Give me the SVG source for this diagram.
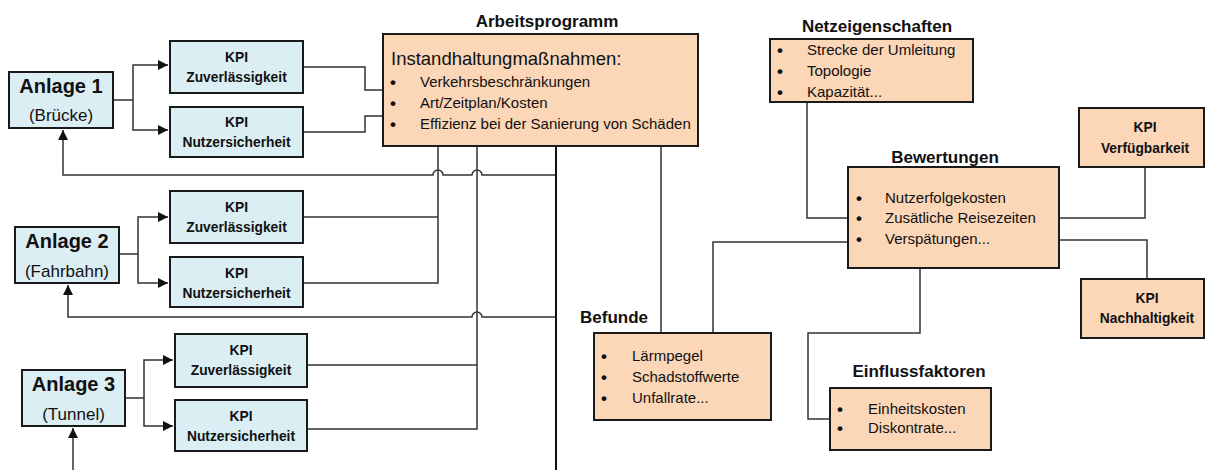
<svg xmlns="http://www.w3.org/2000/svg" width="1206" height="470" viewBox="0 0 1206 470">
<defs>
<marker id="arr" viewBox="0 0 10 10" refX="10" refY="5" markerWidth="10" markerHeight="10" markerUnits="userSpaceOnUse" orient="auto">
<path d="M0,0 L10,5 L0,10 z" fill="#111"/>
</marker>
<style>
.blue{fill:#DBEEF4;stroke:#1a1a1a;stroke-width:2}
.peach{fill:#FBD6B7;stroke:#1a1a1a;stroke-width:2}
.c{fill:none;stroke:#333;stroke-width:1.5}
.trunk{fill:none;stroke:#111;stroke-width:2}
text{font-family:"Liberation Sans",Arial,sans-serif;fill:#111}
.an{font-size:20px;font-weight:bold;text-anchor:middle}
.ans{font-size:17px;text-anchor:middle}
.kpi{font-size:13.8px;font-weight:bold;text-anchor:middle}
.ttl{font-size:17px;font-weight:bold}
.li{font-size:15px}
.bul{font-size:17px;font-weight:bold}
</style>
</defs>
<rect width="1206" height="470" fill="#fff"/>

<g id="connectors">
<!-- Anlage 1 -->
<path class="c" d="M113,100 H133 V65 H168" marker-end="url(#arr)"/>
<path class="c" d="M133,100 V130 H168" marker-end="url(#arr)"/>
<path class="c" d="M303,67 H365 V90 H383"/>
<path class="c" d="M303,132 H365 V116 H383"/>
<path class="c" d="M556,175 H482 A5,5 0 0 0 472,175 H443 A5,5 0 0 0 433,175 H63 V130" marker-end="url(#arr)"/>
<!-- Anlage 2 -->
<path class="c" d="M119,254 H138 V217 H168" marker-end="url(#arr)"/>
<path class="c" d="M138,254 V283 H168" marker-end="url(#arr)"/>
<path class="c" d="M303,217 H438"/>
<path class="c" d="M303,283 H438 V146"/>
<path class="c" d="M556,317 H482 A5,5 0 0 0 472,317 H68 V285" marker-end="url(#arr)"/>
<!-- Anlage 3 -->
<path class="c" d="M125,398 H144 V360 H173" marker-end="url(#arr)"/>
<path class="c" d="M144,398 V426 H173" marker-end="url(#arr)"/>
<path class="c" d="M307,365 H477"/>
<path class="c" d="M307,429 H477 V146"/>
<path class="c" d="M73,470 V428" marker-end="url(#arr)"/>
<!-- trunk -->
<path class="trunk" d="M556,142 V470"/>
<path class="c" d="M661,146 V333"/>
<!-- right side -->
<path class="c" d="M807,102 V218 H848"/>
<path class="c" d="M848,242 H713 V333"/>
<path class="c" d="M920,268 V333 H808 V419 H830"/>
<path class="c" d="M1059,218 H1145 V167"/>
<path class="c" d="M1059,240 H1147 V279"/>
</g>

<g id="anlage1">
<rect class="blue" x="9" y="72" width="104" height="56"/>
<text class="an" x="61" y="93">Anlage 1</text>
<text class="ans" x="61" y="121">(Brücke)</text>
</g>
<g id="kpi-z1">
<rect class="blue" x="170" y="41" width="133" height="52"/>
<text class="kpi" x="236.5" y="62">KPI</text>
<text class="kpi" x="236.5" y="82">Zuverlässigkeit</text>
</g>
<g id="kpi-n1">
<rect class="blue" x="170" y="107" width="133" height="50"/>
<text class="kpi" x="236.5" y="127">KPI</text>
<text class="kpi" x="236.5" y="147">Nutzersicherheit</text>
</g>

<g id="anlage2">
<rect class="blue" x="15" y="227" width="104" height="56"/>
<text class="an" x="67" y="248">Anlage 2</text>
<text class="ans" x="67" y="277">(Fahrbahn)</text>
</g>
<g id="kpi-z2">
<rect class="blue" x="170" y="191" width="133" height="52"/>
<text class="kpi" x="236.5" y="212">KPI</text>
<text class="kpi" x="236.5" y="232">Zuverlässigkeit</text>
</g>
<g id="kpi-n2">
<rect class="blue" x="170" y="257" width="133" height="50"/>
<text class="kpi" x="236.5" y="278">KPI</text>
<text class="kpi" x="236.5" y="298">Nutzersicherheit</text>
</g>

<g id="anlage3">
<rect class="blue" x="22" y="370" width="103" height="56"/>
<text class="an" x="73.5" y="391">Anlage 3</text>
<text class="ans" x="73.5" y="420">(Tunnel)</text>
</g>
<g id="kpi-z3">
<rect class="blue" x="175" y="334" width="132" height="53"/>
<text class="kpi" x="241" y="355">KPI</text>
<text class="kpi" x="241" y="375">Zuverlässigkeit</text>
</g>
<g id="kpi-n3">
<rect class="blue" x="175" y="400" width="132" height="51"/>
<text class="kpi" x="241" y="421">KPI</text>
<text class="kpi" x="241" y="441">Nutzersicherheit</text>
</g>

<g id="arbeitsprogramm">
<text class="ttl" x="547" y="27" text-anchor="middle">Arbeitsprogramm</text>
<rect class="peach" x="383" y="34" width="315" height="112"/>
<text x="391" y="65" style="font-size:18.5px">Instandhaltungmaßnahmen:</text>
<text class="bul" x="390" y="88">•</text><text class="li" x="420" y="87">Verkehrsbeschränkungen</text>
<text class="bul" x="390" y="109">•</text><text class="li" x="420" y="108">Art/Zeitplan/Kosten</text>
<text class="bul" x="390" y="130">•</text><text class="li" x="420" y="129">Effizienz bei der Sanierung von Schäden</text>
</g>

<g id="netzeigenschaften">
<text class="ttl" x="877" y="32" text-anchor="middle">Netzeigenschaften</text>
<rect class="peach" x="770" y="39" width="203" height="63"/>
<text class="bul" x="777" y="56">•</text><text class="li" x="807" y="55">Strecke der Umleitung</text>
<text class="bul" x="777" y="77">•</text><text class="li" x="807" y="76">Topologie</text>
<text class="bul" x="777" y="98">•</text><text class="li" x="807" y="97">Kapazität...</text>
</g>

<g id="bewertungen">
<text class="ttl" x="945" y="163" text-anchor="middle">Bewertungen</text>
<rect class="peach" x="848" y="167" width="211" height="101"/>
<text class="bul" x="856" y="204">•</text><text class="li" x="885" y="203">Nutzerfolgekosten</text>
<text class="bul" x="856" y="224">•</text><text class="li" x="885" y="223">Zusätliche Reisezeiten</text>
<text class="bul" x="856" y="245">•</text><text class="li" x="885" y="244">Verspätungen...</text>
</g>

<g id="kpi-verfuegbarkeit">
<rect class="peach" x="1079" y="108" width="125" height="59"/>
<text class="kpi" x="1145" y="132">KPI</text>
<text class="kpi" x="1145" y="153">Verfügbarkeit</text>
</g>

<g id="kpi-nachhaltigkeit">
<rect class="peach" x="1081" y="279" width="123" height="59"/>
<text class="kpi" x="1147" y="303">KPI</text>
<text class="kpi" x="1147" y="323">Nachhaltigkeit</text>
</g>

<g id="befunde">
<text class="ttl" x="580" y="323">Befunde</text>
<rect class="peach" x="594" y="333" width="177" height="87"/>
<text class="bul" x="601" y="362">•</text><text class="li" x="632" y="361">Lärmpegel</text>
<text class="bul" x="601" y="383">•</text><text class="li" x="632" y="382">Schadstoffwerte</text>
<text class="bul" x="601" y="404">•</text><text class="li" x="632" y="403">Unfallrate...</text>
</g>

<g id="einflussfaktoren">
<text class="ttl" x="919" y="377" text-anchor="middle">Einflussfaktoren</text>
<rect class="peach" x="830" y="388" width="161" height="62"/>
<text class="bul" x="837" y="415">•</text><text class="li" x="868" y="414">Einheitskosten</text>
<text class="bul" x="837" y="434">•</text><text class="li" x="868" y="433">Diskontrate...</text>
</g>
</svg>
